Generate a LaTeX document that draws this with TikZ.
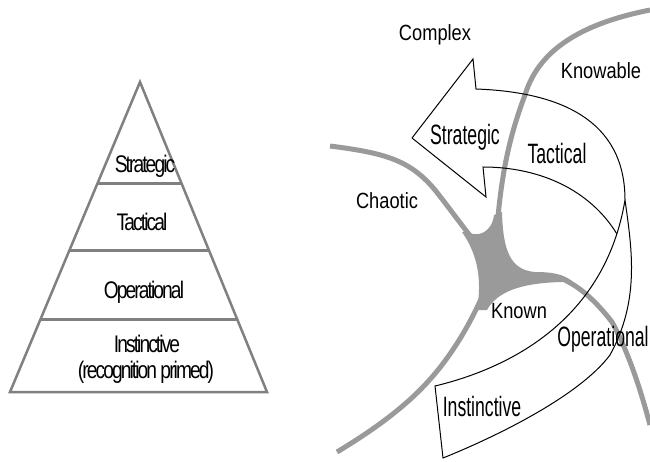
\documentclass[tikz,border=0pt]{standalone}
\usepackage{fontspec}
\setmainfont{Liberation Sans}
\newfontfamily\pyrfont[FakeStretch=0.8, LetterSpace=-8]{Liberation Sans}
\newfontfamily\zonefont[FakeStretch=0.83]{Liberation Sans}
\newfontfamily\bandfont[FakeStretch=0.63]{Liberation Sans}
\usepackage{tikz}
\usetikzlibrary{calc}
\definecolor{pyrgray}{HTML}{808080}
\definecolor{zonegray}{HTML}{9A9A9A}

\begin{document}
\begin{tikzpicture}[x=1pt, y=-1pt,
  pyrline/.style={line width=2.5pt, color=pyrgray},
  zoneline/.style={line width=5pt, color=zonegray},
  pyrlabel/.style={anchor=base, inner sep=0pt, font=\pyrfont\fontsize{24}{26}\selectfont},
  zonelabel/.style={anchor=base, inner sep=0pt, font=\zonefont\fontsize{22}{24}\selectfont},
  bandlabel/.style={anchor=base, inner sep=0pt, font=\bandfont\fontsize{28}{30}\selectfont}]
\useasboundingbox (0, 0) rectangle (650, 461);

% the pyramid
\coordinate (apex) at (140, 82);
\coordinate (baseL) at (10, 392);
\coordinate (baseR) at (267, 392);
\draw [pyrline] (apex) -- (baseR) -- (baseL) -- cycle;
\foreach \t/\n in {0.326/a, 0.545/b, 0.765/c} {
  \draw [pyrline, line width=3pt] ($(apex)!\t!(baseL)$) coordinate (div\n L)
    -- ($(apex)!\t!(baseR)$) coordinate (div\n R);
}
\node (pStrat) at (145, 172) [pyrlabel] {Strategic};
\node (pTact) at (142, 230) [pyrlabel] {Tactical};
\node (pOper) at (144, 298) [pyrlabel] {Operational};
\node (pInst) at (147, 352) [pyrlabel] {Instinctive};
\node (pRecog) at (146, 378) [pyrlabel] {(recognition primed)};

% the domains
\coordinate (hub) at (495, 265);
\draw [zoneline] (330, 146) .. controls (385, 153) and (410, 160) .. (435, 190)
  .. controls (455, 215) and (470, 238) .. (hub);
\draw [zoneline] (650, 10) .. controls (590, 22) and (540, 45) .. (525, 95)
  .. controls (508, 140) and (498, 185) .. (hub);
\draw [zoneline] (hub) .. controls (482, 300) and (460, 350) .. (420, 390)
  .. controls (395, 415) and (365, 435) .. (337, 452);
\draw [zoneline] (hub) .. controls (515, 276) and (540, 278) .. (560, 278)
  .. controls (578, 285) and (595, 300) .. (612, 322)
  .. controls (630, 355) and (642, 395) .. (650, 425);
\fill [zonegray] (468, 232) .. controls (478, 238) and (492, 232) .. (494, 215)
  -- (502, 212) .. controls (503, 250) and (510, 270) .. (535, 272)
  .. controls (552, 272) and (563, 274) .. (572, 281)
  -- (562, 282) .. controls (520, 283) and (497, 292) .. (487, 310)
  -- (477, 310) .. controls (482, 280) and (478, 255) .. (462, 232) -- cycle;

\node (complex) at (435, 40) [zonelabel] {Complex};
\node (knowable) at (601, 78) [zonelabel] {Knowable};
\node (chaotic) at (387, 208) [zonelabel] {Chaotic};
\node (known) at (519, 318) [zonelabel] {Known};

% the twisted arrow
\coordinate (tip) at (412, 138);
\coordinate (ubarb) at (473, 59);
\coordinate (uin) at (476, 89);
\coordinate (twist) at (625, 200);
\coordinate (endA) at (443, 458);
\coordinate (endB) at (435, 386);
\coordinate (lin) at (483, 167);
\coordinate (lbarb) at (486, 197);
\draw [line width=1pt] (tip) -- (ubarb) -- (uin)
  .. controls (560, 92) and (625, 120) .. (twist)
  .. controls (632, 250) and (640, 300) .. (610, 355)
  .. controls (580, 395) and (500, 435) .. (endA) -- (endB)
  .. controls (510, 368) and (605, 320) .. coordinate[pos=0.9] (meet) (twist);
\draw [line width=1pt] (meet) .. controls (590, 190) and (540, 167) .. (lin)
  -- (lbarb) -- (tip);

\node (aStrat) at (465, 144) [bandlabel] {Strategic};
\node (aTact) at (557, 163) [bandlabel] {Tactical};
\node (aOper) at (603, 346) [bandlabel] {Operational};
\node (aInst) at (482, 416) [bandlabel] {Instinctive};
\end{tikzpicture}
\end{document}
